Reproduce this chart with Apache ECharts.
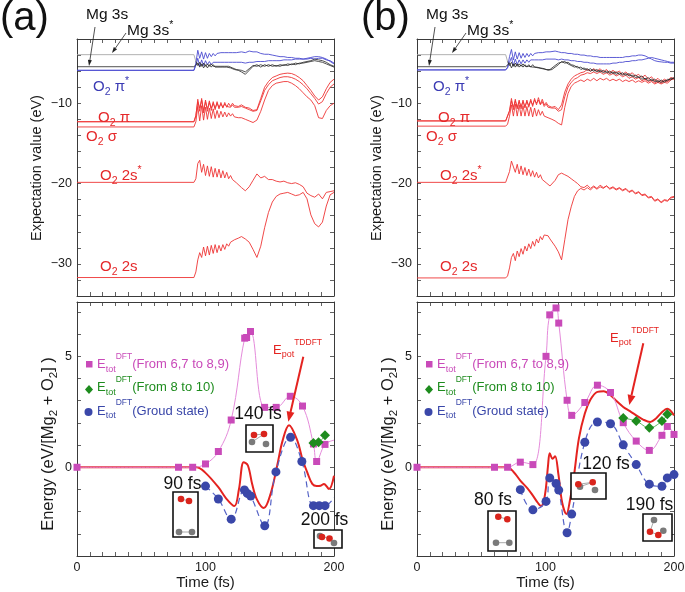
<!DOCTYPE html>
<html><head><meta charset="utf-8">
<script src="https://cdn.jsdelivr.net/npm/echarts@6.0.0/dist/echarts.min.js"></script>
<style>html,body{margin:0;padding:0;background:#fff}#c{width:685px;height:592px}</style>
</head><body><div id="c"></div>
<script>
// ---------------- DATA: panel (a), expectation values ----------------
const tA = [0,91,92.5,94,95.5,97,98.5,100,101.5,103,104.5,106,107.5,109,110.5,112,113.5,115,116.5,118,119.5,121,122.5,124,125.5,
  128,131,134,137,140,143,146,149,152,155,158,161,164,167,170,173,176,179,182,185,188,191,194,197,200];
const piA1 = [-12.3,-12.3,-11.6,-9.5,-11.0,-9.4,-11.2,-9.6,-11.0,-9.7,-10.9,-9.8,-10.8,-9.8,-10.7,-9.9,-10.6,-9.9,-10.5,-10.0,-10.4,-10.0,-10.3,-10.1,-10.4,
  -10.2,-10.5,-10.6,-10.9,-10.8,-9.4,-8.0,-7.3,-6.8,-6.6,-6.4,-6.3,-6.25,-6.3,-6.5,-6.8,-7.2,-7.8,-8.4,-9.1,-9.6,-9.2,-8.2,-7.4,-7.0];
const piA2 = [-12.3,-12.3,-11.5,-9.8,-10.6,-9.6,-10.9,-9.8,-10.7,-9.9,-10.6,-10.0,-10.6,-10.0,-10.5,-10.1,-10.5,-10.1,-10.4,-10.2,-10.5,-10.2,-10.5,-10.3,-10.5,
  -10.4,-10.6,-10.8,-11.0,-10.9,-9.7,-8.4,-7.7,-7.2,-7.0,-6.8,-6.7,-6.7,-6.8,-7.0,-7.3,-7.7,-8.2,-8.8,-9.4,-10.1,-9.8,-8.8,-8.0,-7.6];
const sigA = [-12.95,-12.95,-12.3,-10.4,-12.2,-10.3,-12.1,-10.5,-12.0,-10.6,-11.9,-10.7,-11.9,-10.9,-11.8,-11.0,-11.7,-11.1,-11.7,-11.2,-11.6,-11.3,-11.7,-11.5,-11.8,
  -11.8,-12.0,-12.2,-12.4,-12.1,-11.0,-9.6,-8.4,-7.8,-7.5,-7.4,-7.3,-7.3,-7.5,-7.8,-8.2,-8.7,-9.2,-9.6,-10.3,-11.8,-11.9,-10.9,-10.3,-10.0];
const s2sA = [-19.85,-19.85,-19.4,-17.5,-17.1,-18.6,-17.6,-19.0,-17.8,-19.1,-17.9,-19.2,-18.1,-19.2,-18.2,-19.3,-18.4,-19.3,-18.6,-19.4,-19.0,-19.5,-19.6,-19.9,-20.1,
  -20.5,-20.9,-20.4,-19.6,-18.8,-19.3,-19.1,-19.5,-19.5,-19.7,-19.8,-19.7,-19.9,-20.0,-19.9,-20.1,-20.4,-21.2,-21.5,-21.7,-21.3,-21.9,-21.1,-21.0,-20.9];
const s2A = [-31.7,-31.7,-31.0,-29.5,-28.6,-29.2,-27.9,-29.0,-27.8,-28.9,-27.7,-28.7,-27.6,-28.6,-27.7,-28.4,-27.6,-28.2,-27.5,-27.8,-27.3,-27.4,-27.0,-27.0,-26.8,
  -26.6,-26.9,-27.3,-28.2,-29.2,-27.8,-25.5,-23.6,-22.3,-21.6,-21.3,-21.2,-21.1,-21.3,-21.5,-21.4,-21.1,-21.9,-23.9,-25.0,-25.4,-24.8,-22.8,-21.4,-21.1];
const piSA1 = [-5.9,-5.9,-5.0,-3.4,-4.4,-3.6,-4.5,-3.7,-4.4,-3.8,-4.2,-3.8,-4.1,-3.8,-4.0,-3.7,-3.9,-3.7,-3.8,-3.7,-3.8,-3.7,-3.8,-3.7,-3.7,
  -3.6,-3.7,-3.5,-3.6,-3.6,-3.8,-3.9,-3.9,-4.0,-4.1,-4.2,-4.2,-4.3,-4.3,-4.4,-4.4,-4.5,-4.5,-4.4,-4.5,-4.4,-4.4,-4.6,-4.7,-5.0];
const piSA2 = [-5.9,-5.9,-5.3,-4.4,-5.4,-4.6,-5.3,-4.7,-5.2,-4.8,-5.2,-4.9,-5.1,-4.9,-5.1,-4.9,-5.0,-4.9,-5.0,-4.9,-5.0,-4.9,-5.0,-4.9,-5.0,
  -4.9,-5.0,-4.9,-4.9,-4.8,-4.8,-4.8,-4.7,-4.7,-4.7,-4.7,-4.6,-4.6,-4.6,-4.5,-4.5,-4.5,-4.4,-4.3,-4.2,-4.2,-4.3,-4.5,-4.8,-5.1];
const mgA1 = [-5.45,-5.45,-5.4,-5.0,-5.5,-5.1,-5.6,-5.2,-5.6,-5.2,-5.5,-5.2,-5.5,-5.3,-5.5,-5.3,-5.5,-5.3,-5.5,-5.4,-5.6,-5.5,-5.8,-5.7,-5.9,
  -6.1,-6.4,-5.9,-5.4,-5.2,-5.5,-5.2,-5.4,-5.2,-5.4,-5.2,-5.3,-5.1,-5.2,-5.0,-5.1,-4.9,-4.8,-4.7,-4.5,-4.6,-4.7,-4.9,-5.2,-5.4];
const mgA2 = [null,null,-4.8,-5.3,-4.9,-5.4,-5.0,-5.4,-5.1,-5.4,-5.1,-5.4,-5.2,-5.4,-5.2,-5.4,-5.2,-5.4,-5.3,-5.4,-5.4,-5.6,-5.6,-5.8,-5.8,
  -5.9,-6.1,-5.7,-5.3,-5.4,-5.2,-5.4,-5.2,-5.4,-5.3,-5.4,-5.2,-5.3,-5.1,-5.2,-5.0,-5.0,-4.9,-4.8,-4.7,-4.8,-4.9,-5.1,-5.3,-5.5];
const mgSA = [-3.95,-3.95,-4.8];

// ---------------- DATA: panel (b), expectation values ----------------
const tB = [0,69,70.5,72,73.5,75,76.5,78,79.5,81,82.5,84,85.5,87,88.5,90,91.5,93,94.5,96,97.5,99,100.5,102,103.5,
  105,107.5,110,112.5,115,117.5,120,122.5,125,127.5,130,132.5,135,137.5,140,142.5,145,147.5,150,152.5,155,157.5,160,162.5,165,167.5,170,172.5,175,177.5,180,182.5,185,187.5,190,192.5,195,197.5,200];
const piB1 = [-12.2,-12.2,-12.0,-10.9,-9.4,-10.8,-9.5,-10.7,-9.6,-10.7,-9.6,-10.6,-9.6,-10.5,-9.5,-10.4,-9.4,-10.2,-9.3,-10.1,-9.5,-10.2,-9.9,-10.3,-10.2,
  -10.5,-10.4,-10.8,-10.2,-8.6,-7.6,-7.0,-6.6,-6.4,-6.2,-6.1,-5.8,-6.0,-5.7,-6.0,-5.7,-6.1,-5.8,-6.2,-5.9,-6.2,-6.0,-6.4,-6.1,-6.5,-6.2,-6.6,-6.4,-6.8,-6.5,-7.0,-6.7,-7.2,-6.9,-7.3,-7.0,-7.2,-6.8,-6.9];
const piB2 = [-12.2,-12.2,-12.0,-11.0,-9.7,-10.5,-9.7,-10.5,-9.8,-10.4,-9.8,-10.4,-9.8,-10.3,-9.7,-10.2,-9.6,-10.0,-9.6,-10.2,-9.8,-10.4,-10.1,-10.5,-10.4,
  -10.6,-10.6,-11.0,-10.8,-9.2,-8.0,-7.4,-7.0,-6.8,-6.5,-6.4,-6.2,-6.3,-6.1,-6.3,-6.1,-6.4,-6.2,-6.5,-6.3,-6.6,-6.4,-6.7,-6.5,-6.9,-6.7,-7.0,-6.8,-7.2,-7.0,-7.3,-7.1,-7.5,-7.2,-7.5,-7.2,-7.3,-7.0,-7.0];
const sigB = [-12.85,-12.85,-12.6,-11.6,-10.2,-11.6,-10.1,-11.6,-10.2,-11.6,-10.3,-11.6,-10.4,-11.6,-10.5,-11.7,-10.6,-11.6,-10.8,-11.5,-11.0,-11.6,-11.4,-11.8,-11.7,
  -12.0,-12.2,-12.5,-12.7,-10.5,-8.8,-7.9,-7.5,-7.3,-7.1,-7.3,-7.0,-7.2,-6.9,-7.2,-6.9,-7.1,-6.9,-7.2,-7.0,-7.2,-7.0,-7.3,-7.1,-7.3,-7.1,-7.4,-7.2,-7.4,-7.2,-7.5,-7.3,-7.6,-7.4,-7.6,-7.4,-7.5,-7.1,-6.9];
const s2sB = [-19.85,-19.85,-19.7,-18.5,-17.2,-17.1,-18.6,-17.6,-18.8,-17.8,-18.9,-18.0,-19.0,-18.2,-19.1,-18.4,-19.2,-18.6,-19.3,-18.9,-19.5,-19.4,-19.9,-20.0,-20.3,
  -20.2,-19.6,-18.9,-18.7,-18.9,-19.1,-19.4,-19.7,-20.0,-20.4,-20.5,-20.2,-20.6,-20.3,-20.6,-20.2,-20.5,-20.3,-20.6,-20.4,-20.7,-20.5,-20.8,-20.6,-21.0,-20.8,-21.2,-21.0,-21.4,-21.3,-21.7,-21.6,-22.1,-21.9,-22.3,-22.0,-22.1,-21.7,-21.6];
const s2B = [-31.75,-31.75,-31.5,-30.5,-29.2,-28.7,-29.6,-28.4,-29.1,-28.1,-28.8,-27.8,-28.4,-27.5,-28.1,-27.2,-27.8,-26.9,-27.4,-26.6,-27.0,-26.4,-26.6,-26.5,-26.9,
  -27.1,-27.8,-28.5,-29.5,-27.0,-24.5,-22.9,-21.6,-20.9,-20.6,-20.8,-20.5,-20.8,-20.4,-20.7,-20.4,-20.6,-20.3,-20.7,-20.5,-20.8,-20.6,-20.9,-20.7,-21.1,-20.9,-21.3,-21.1,-21.5,-21.4,-21.8,-21.7,-22.2,-22.0,-22.4,-22.1,-22.2,-21.8,-21.7];
const piSB1 = [-5.85,-5.85,-5.5,-4.2,-3.3,-4.6,-3.6,-4.5,-3.7,-4.4,-3.8,-4.3,-3.8,-4.2,-3.8,-4.1,-3.8,-4.0,-3.7,-3.9,-3.7,-3.8,-3.6,-3.7,-3.6,
  -3.6,-3.5,-3.6,-3.7,-3.7,-3.8,-3.8,-3.9,-3.9,-4.0,-4.0,-4.1,-4.1,-4.2,-4.2,-4.3,-4.3,-4.3,-4.3,-4.3,-4.3,-4.3,-4.3,-4.2,-4.2,-4.1,-4.1,-4.0,-4.0,-4.1,-4.3,-4.5,-4.7,-4.8,-4.85,-4.9,-4.9,-5.0,-5.0];
const piSB2 = [-5.85,-5.85,-5.6,-4.9,-4.3,-5.3,-4.5,-5.2,-4.6,-5.1,-4.6,-5.0,-4.6,-4.9,-4.6,-4.8,-4.6,-4.7,-4.6,-4.7,-4.6,-4.6,-4.5,-4.6,-4.5,
  -4.6,-4.5,-4.6,-4.5,-4.6,-4.6,-4.7,-4.7,-4.8,-4.8,-4.9,-4.9,-5.0,-5.0,-5.1,-5.1,-5.1,-5.1,-5.1,-5.0,-5.0,-4.9,-4.9,-4.8,-4.8,-4.7,-4.7,-4.6,-4.6,-4.5,-4.4,-4.3,-4.4,-4.5,-4.6,-4.7,-4.8,-4.9,-4.9];
const mgB1 = [-5.45,-5.45,-5.4,-5.0,-5.6,-5.1,-5.5,-5.1,-5.5,-5.2,-5.5,-5.2,-5.5,-5.2,-5.5,-5.2,-5.5,-5.3,-5.6,-5.4,-5.7,-5.5,-5.8,-5.6,-5.8,
  -5.6,-5.3,-5.0,-4.9,-4.8,-5.1,-5.3,-5.5,-5.4,-5.8,-5.6,-5.9,-5.7,-6.0,-5.8,-6.1,-5.9,-6.2,-6.0,-6.3,-6.1,-6.4,-6.2,-6.5,-6.3,-6.7,-6.5,-6.8,-6.6,-7.0,-6.8,-7.2,-7.0,-7.4,-7.1,-7.4,-7.0,-7.1,-6.8];
const mgB2 = [null,null,-4.8,-5.3,-4.9,-5.4,-5.0,-5.4,-5.1,-5.4,-5.1,-5.4,-5.2,-5.4,-5.2,-5.5,-5.3,-5.5,-5.4,-5.6,-5.5,-5.7,-5.6,-5.9,-5.7,
  -5.8,-5.5,-5.2,-4.8,-5.0,-4.9,-5.2,-5.3,-5.6,-5.5,-5.8,-5.7,-6.0,-5.8,-6.1,-5.9,-6.2,-6.0,-6.3,-6.1,-6.4,-6.2,-6.5,-6.3,-6.6,-6.5,-6.8,-6.7,-7.0,-6.9,-7.2,-7.0,-7.3,-7.2,-7.4,-7.2,-7.2,-6.9,-6.9];
const mgSB = [-3.95,-3.95,-4.8];

// ---------------- DATA: energies (a) ----------------
const redA_t = [0,93,99.6,110,116,122.5,126,129.7,133,136.3,140,145.4,150.6,155.8,160,165,171.4,175.5,179.2,183.1,186.5,189.6,192.2,196.1,200];
const redA_v = [0,0,-0.23,-0.9,-1.4,-1.75,-1.0,0.23,0.08,-0.75,-1.45,-1.84,-1.21,0.08,1.2,1.89,1.21,0.35,-0.23,-0.75,-0.85,-0.83,-0.75,-0.98,-0.38];
const magA_t = [0,79,90,100,110,120,130.5,132,135,146,155,166,175.5,184,186.5,193];
const magA_v = [0,0,0,0.15,0.71,2.13,5.82,5.85,6.12,2.7,2.7,3.2,2.76,1.05,0.26,1.03];
const magTailA = [200,1.22];
const greenA_t = [184,188,193];
const greenA_v = [1.09,1.13,1.44];
const blueA_t = [100,110,120,130.3,132.5,135.2,146.1,154.8,166.2,175,184,188.5,193];
const blueA_v = [-0.85,-1.43,-2.34,-1.02,-1.18,-1.3,-2.64,-0.21,1.35,0.26,-1.73,-1.73,-1.73];
const blueTailA = [200,-1.36];

// ---------------- DATA: energies (b) ----------------
const redB_t = [0,70,75,80.4,86,90.2,94,96.5,98.5,100.4,102,103.3,105.5,107.5,110,113,116.3,119,122,126,130.6,135,140.4,145.4,150.6,155,160.5,165,170.6,176,181.5,186,190,194.8,200];
const redB_v = [0,0,-0.2,-0.6,-0.95,-1.28,-1.6,-1.75,-1.55,-0.9,0.1,0.63,0.38,0.5,-0.3,-1.6,-2.11,-1.5,-0.45,1.3,2.42,3.05,3.4,3.43,3.25,3.0,2.72,2.55,2.34,2.15,2.04,2.2,2.45,2.64,2.34];
const magB_t = [0,60.3,70.5,80.4,90.2,100.4,103.3,108.2,110.3,116.8,120.4,130.6,140.4,150.6,160.5,170.6,180.8,190.6,194.8,200];
const magB_v = [0,0,0,0.23,0.12,5.0,6.87,7.18,6.5,3.02,2.34,2.92,3.7,3.37,2.01,1.18,0.76,1.44,1.84,1.48];
const greenB_t = [160.5,170.6,180.8,190.6,194.8];
const greenB_v = [2.22,2.08,1.78,2.08,2.39];
const blueB_t = [80.4,90.2,100.4,103.3,108.2,110.3,116.8,120.4,130.6,140.4,150.6,160.5,170.6,180.8,190.6,194.8,200];
const blueB_v = [-1.01,-1.92,-1.54,-0.48,-0.73,-1.03,-2.95,-2.11,1.13,2.04,1.96,1.01,0.12,-0.76,-0.86,-0.48,-0.33];

// tick labels
const xTickLabels = [0,100,200];
const yTopLabels = [-30,-20,-10];
const yBotLabels = [0,5];

// ---------------- CHART ----------------
const FONT = '"Liberation Sans", Arial, Helvetica, sans-serif';
const FRAME = '#3a3a3a';
const RED = '#ee3434', BLUE = '#4b4bd0', BLACK = '#262626', GRAY = '#a8a8a8';
const chart = echarts.init(document.getElementById('c'), null, {renderer:'canvas'});

const grids = [
  {left:77, top:39, width:257, height:257},
  {left:77, top:302, width:257, height:254},
  {left:417, top:39, width:257, height:257},
  {left:417, top:302, width:257, height:254}
].map(g => Object.assign(g, {containLabel:false, outerBoundsMode:'none'}));

function fmtNum(v){ return v < 0 ? '\u2212' + Math.abs(v) : String(v); }
const xAxes = [], yAxes = [];
for (let pass = 0; pass < 2; pass++) {
  for (let g = 0; g < 4; g++) {
    const isBottomPanel = g % 2 === 1;
    xAxes.push({
      gridIndex:g, type:'value', min:0, max:200, interval:10,
      position: pass === 0 ? 'bottom' : 'top',
      axisLine:{show:true, onZero:false, lineStyle:{color:FRAME, width:1}},
      axisTick:{show:true, inside:true, length:4, lineStyle:{color:FRAME, width:0.8}},
      axisLabel:{show: pass === 0 && isBottomPanel, showMinLabel:true, showMaxLabel:true,
        formatter: v => xTickLabels.includes(v) ? String(v) : '',
        margin:5, fontSize:12.5, color:'#1a1a1a', fontFamily:FONT},
      splitLine:{show:false},
      name: (pass === 0 && isBottomPanel) ? 'Time (fs)' : '',
      nameLocation:'middle', nameGap:19,
      nameTextStyle:{fontSize:15, color:'#1a1a1a', fontFamily:FONT}
    });
    const top = !isBottomPanel;
    yAxes.push({
      gridIndex:g, type:'value',
      min: top ? -34 : -4, max: top ? -2 : 7.45, interval: top ? 2 : 1,
      position: pass === 0 ? 'left' : 'right',
      axisLine:{show:true, onZero:false, lineStyle:{color:FRAME, width:1}},
      axisTick:{show:true, inside:true, length:4, lineStyle:{color:FRAME, width:0.8}},
      axisLabel:{show: pass === 0, showMinLabel:true, showMaxLabel:true,
        formatter: v => (top ? yTopLabels : yBotLabels).includes(v) ? fmtNum(v) : '',
        margin:5, fontSize:12.5, color:'#1a1a1a', fontFamily:FONT},
      splitLine:{show:false}
    });
  }
}

function pairs(t, v){ const out = []; for (let i = 0; i < v.length; i++) out.push([t[i], v[i] === null ? '-' : v[i]]); return out; }
function thin(g, t, v, color, width, z){
  return {type:'line', xAxisIndex:g, yAxisIndex:g, data:pairs(t, v), symbol:'none', showSymbol:false,
    lineStyle:{color, width}, z:z, silent:true, animation:false, connectNulls:false};
}
function marks(g, t, v, tail, sym, size, color, lineColor, lw, dash, z){
  const d = pairs(t, v);
  if (tail) d.push({value:tail, symbol:'none'});
  return {type:'line', xAxisIndex:g, yAxisIndex:g, data:d, smooth:0.4, symbol:sym, symbolSize:size, showSymbol:true,
    itemStyle:{color, opacity:1}, lineStyle:{color:lineColor, width:lw, type:dash || 'solid'}, z, silent:true, animation:false};
}

const series = [
  // (a) top
  thin(0, tA, s2A, RED, 0.9, 2), thin(0, tA, s2sA, RED, 0.9, 2),
  thin(0, tA, sigA, RED, 0.9, 2), thin(0, tA, piA2, RED, 0.9, 2), thin(0, tA, piA1, RED, 0.9, 2),
  thin(0, tA, piSA1, BLUE, 0.9, 3), thin(0, tA, piSA2, BLUE, 0.9, 3),
  thin(0, tA, mgSA, GRAY, 0.9, 3), thin(0, tA, mgA1, BLACK, 0.8, 4), thin(0, tA, mgA2, BLACK, 0.8, 4),
  // (b) top
  thin(2, tB, s2B, RED, 0.9, 2), thin(2, tB, s2sB, RED, 0.9, 2),
  thin(2, tB, sigB, RED, 0.9, 2), thin(2, tB, piB2, RED, 0.9, 2), thin(2, tB, piB1, RED, 0.9, 2),
  thin(2, tB, piSB1, BLUE, 0.9, 3), thin(2, tB, piSB2, BLUE, 0.9, 3),
  thin(2, tB, mgSB, GRAY, 0.9, 3), thin(2, tB, mgB1, BLACK, 0.8, 4), thin(2, tB, mgB2, BLACK, 0.8, 4),
  // (a) bottom
  Object.assign(thin(1, redA_t, redA_v, '#e42320', 2, 3), {smooth:0.35}),
  marks(1, magA_t, magA_v, magTailA, 'rect', 7, '#c94ab9', '#e58bdb', 1, null, 4),
  marks(1, blueA_t, blueA_v, blueTailA, 'circle', 9, '#3a47a9', '#5563c6', 1.2, [6,4], 5),
  marks(1, greenA_t, greenA_v, null, 'diamond', 10, '#1e8c1e', '#5cb85c', 1, null, 6),
  // (b) bottom
  Object.assign(thin(3, redB_t, redB_v, '#e42320', 2, 3), {smooth:0.35}),
  marks(3, magB_t, magB_v, null, 'rect', 7, '#c94ab9', '#e58bdb', 1, null, 4),
  marks(3, blueB_t, blueB_v, null, 'circle', 9, '#3a47a9', '#5563c6', 1.2, [6,4], 5),
  marks(3, greenB_t, greenB_v, null, 'diamond', 10, '#1e8c1e', '#5cb85c', 1, null, 6)
];

// ---------------- annotations (graphic) ----------------
const mctx = document.createElement('canvas').getContext('2d');
function tw(s, size){ mctx.font = size + 'px ' + FONT; return mctx.measureText(s).width; }
function T(x, y, text, size, color, align, va){
  return {type:'text', x, y, z:100, silent:true,
    style:{text, fontSize:size, fontFamily:FONT, fill:color,
      textAlign:align || 'left', textVerticalAlign:va || 'middle', align:align || 'left', verticalAlign:va || 'middle'}};
}
function seq(parts, x0, y0, color){
  const out = []; let x = x0;
  for (const p of parts) {
    const [s, size, dy, adv] = p;
    out.push(T(x, y0 + dy, s, size, color));
    if (adv !== false) x += tw(s, size);
  }
  return out;
}
function seqWidth(parts){ let w = 0; for (const p of parts) if (p[3] !== false) w += tw(p[0], p[1]); return w; }
function arrow(x1, y1, x2, y2, color, w, hl, hw){
  const a = Math.atan2(y2 - y1, x2 - x1);
  const bx = x2 - hl * Math.cos(a), by = y2 - hl * Math.sin(a);
  const px = -Math.sin(a) * hw / 2, py = Math.cos(a) * hw / 2;
  return [
    {type:'line', z:100, silent:true, shape:{x1, y1, x2:bx, y2:by}, style:{stroke:color, lineWidth:w}},
    {type:'polygon', z:100, silent:true, shape:{points:[[x2, y2], [bx + px, by + py], [bx - px, by - py]]}, style:{fill:color}}
  ];
}
const G = [];
const LRED = '#e5282a', LBLUE = '#3b3bb4';
[0, 340].forEach((dx, k) => {
  G.push(T((k ? 361 : 0), 18.5, k ? '(b)' : '(a)', 40, '#111'));
  G.push(...seq([['Mg 3s', 15.5, 0]], 86 + dx, 15, '#111'));
  G.push(...seq([['Mg 3s', 15.5, 0], ['*', 10.5, -6]], 127 + dx, 31, '#111'));
  G.push(...arrow(95 + dx, 27, 89 + dx, 66, '#222', 0.8, 6, 4));
  G.push(...arrow(126 + dx, 33, 112 + dx, 53, '#222', 0.8, 6, 4));
  G.push(...seq([['O', 15, 0], ['2', 10.5, 5], [' \u03c0', 15, 0], ['*', 10.5, -6]], 93 + dx, 87, LBLUE));
  G.push(...seq([['O', 15, 0], ['2', 10.5, 5], [' \u03c0', 15, 0]], 98 + dx, 118, LRED));
  G.push(...seq([['O', 15, 0], ['2', 10.5, 5], [' \u03c3', 15, 0]], 86 + dx, 137, LRED));
  G.push(...seq([['O', 15, 0], ['2', 10.5, 5], [' 2s', 15, 0], ['*', 10.5, -6]], 100 + dx, 176, LRED));
  G.push(...seq([['O', 15, 0], ['2', 10.5, 5], [' 2s', 15, 0]], 100 + dx, 267, LRED));
  // axis names
  const yn1 = [['Expectation value (eV)', 14.5, 0]];
  G.push({type:'group', x:37 + dx, y:168, rotation:Math.PI / 2, children:seq(yn1, -seqWidth(yn1) / 2, 0, '#1a1a1a')});
  const yn2 = [['Energy (eV/[Mg', 16.5, 0], ['2', 11.5, 5], [' + O', 16.5, 0], ['2', 11.5, 5], ['] )', 16.5, 0]];
  G.push({type:'group', x:48.5 + dx, y:444, rotation:Math.PI / 2, children:seq(yn2, -seqWidth(yn2) / 2, 0, '#1a1a1a')});
  // legend-like labels
  G.push({type:'rect', z:100, silent:true, shape:{x:86 + dx, y:361, width:6.5, height:6.5}, style:{fill:'#c94ab9'}});
  G.push({type:'polygon', z:100, silent:true, shape:{points:[[89 + dx, 385], [93 + dx, 389.5], [89 + dx, 394], [85 + dx, 389.5]]}, style:{fill:'#1e8c1e'}});
  G.push({type:'circle', z:100, silent:true, shape:{cx:88.5 + dx, cy:412, r:4}, style:{fill:'#3a47a9'}});
  G.push(...seq([['E', 13, 0], ['tot', 9, 5], ['DFT', 8.5, -8], ['(From 6,7 to 8,9)', 13, 0]], 97 + dx, 364.5, '#c94ab9'));
  G.push(...seq([['E', 13, 0], ['tot', 9, 5], ['DFT', 8.5, -8], ['(From 8 to 10)', 13, 0]], 97 + dx, 387.5, '#1e8c1e'));
  G.push(...seq([['E', 13, 0], ['tot', 9, 5], ['DFT', 8.5, -8], ['(Groud state)', 13, 0]], 97 + dx, 411, '#3a47a9'));
});
// E_pot labels + arrows
G.push(...seq([['E', 13, 0], ['pot', 9, 5], ['TDDFT', 8.5, -7]], 273, 350, '#e42320'));
G.push(...arrow(303.3, 356.7, 288.3, 421.7, '#e42320', 2, 10, 8));
G.push(...seq([['E', 13, 0], ['pot', 9, 5], ['TDDFT', 8.5, -7]], 610, 338, '#e42320'));
G.push(...arrow(643.3, 343.3, 629.3, 405, '#e42320', 2, 10, 8));

// snapshot insets
function inset(box, label, dots, links){
  const [bx, by, bw, bh] = box;
  G.push({type:'rect', z:101, silent:true, shape:{x:bx, y:by, width:bw, height:bh}, style:{fill:'#fff', stroke:'#111', lineWidth:1.6}});
  G.push(Object.assign(T(label[1], label[2], label[0], 17.5, '#111', 'center'), {z:101}));
  for (const [i, j] of links) G.push({type:'line', z:102, silent:true, shape:{x1:dots[i][0], y1:dots[i][1], x2:dots[j][0], y2:dots[j][1]}, style:{stroke:'#aaa', lineWidth:1}});
  for (const [x, y, c] of dots) G.push({type:'circle', z:103, silent:true, shape:{cx:x, cy:y, r:3.3}, style:{fill: c === 'r' ? '#d9241c' : '#7a7a7a'}});
}
inset([173, 492, 25, 45], ['90 fs', 182.5, 484], [[181, 499, 'r'], [189, 501, 'r'], [179, 532, 'g'], [192, 532, 'g']], [[0, 1], [2, 3]]);
inset([246, 425, 27, 27], ['140 fs', 258, 414], [[254, 435, 'r'], [264, 434, 'r'], [252, 442, 'g'], [266, 444, 'g']], [[0, 1], [2, 1]]);
inset([314, 530, 28, 18], ['200 fs', 324.5, 520], [[320, 536, 'g'], [322, 537, 'r'], [329.5, 538.5, 'r'], [334, 543, 'g']], [[0, 2], [2, 3]]);
inset([488, 511, 28, 40], ['80 fs', 493, 500], [[498.3, 516.7, 'r'], [507.3, 519.3, 'r'], [496, 542.7, 'g'], [509.3, 542.7, 'g']], [[0, 1], [2, 3]]);
inset([571, 473, 35, 26], ['120 fs', 606, 464], [[580, 486.7, 'g'], [595, 490, 'g'], [578.3, 484.3, 'r'], [592.7, 482.3, 'r']], [[2, 3], [0, 3]]);
inset([643, 514, 29, 27], ['190 fs', 649.5, 505], [[654, 520, 'g'], [663.3, 530.7, 'g'], [650, 531.7, 'r'], [658.3, 535, 'r']], [[0, 2], [2, 3]]);

chart.setOption({
  animation:false,
  backgroundColor:'#fff',
  textStyle:{fontFamily:FONT},
  grid:grids,
  xAxis:xAxes,
  yAxis:yAxes,
  series:series,
  graphic:{elements:G}
});
</script></body></html>
